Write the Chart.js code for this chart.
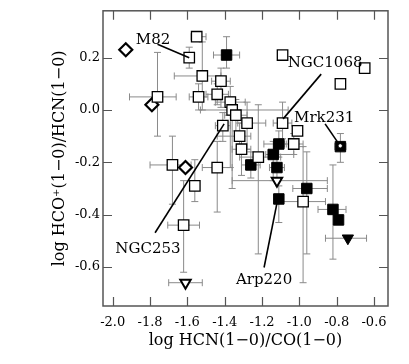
<!DOCTYPE html>
<html lang="en">
<head>
<meta charset="UTF-8">
<title>HCO+/HCN vs HCN/CO</title>
<script src="https://cdn.jsdelivr.net/npm/chart.js"></script>
<style>
    body { margin: 0; background: #fff; }
    #chart { display: block; }
</style>
</head>
<body>
<canvas id="chart" width="409" height="364"></canvas>
<script>
// axis ticks
const xTicks = [-2.0, -1.8, -1.6, -1.4, -1.2, -1.0, -0.8, -0.6];
const yTicks = [-0.6, -0.4, -0.2, 0.0, 0.2];

// open squares: x, y and error extents (minus / plus)
const openX  = [-1.55, -1.59, -1.52, -1.42, -1.54, -1.44, -1.76, -1.37, -1.36, -1.34, -1.28, -1.41, -1.32, -1.31, -1.22, -1.44, -1.68, -1.56, -1.62, -1.09, -0.65, -0.78, -1.09, -1.01, -1.03, -0.98];
const openY  = [0.28, 0.20, 0.13, 0.11, 0.05, 0.06, 0.05, 0.03, 0.00, -0.02, -0.05, -0.06, -0.10, -0.15, -0.18, -0.22, -0.21, -0.29, -0.44, 0.21, 0.16, 0.10, -0.05, -0.08, -0.13, -0.35];
const openXm = [0.03, 0, 0.15, 0.05, 0.05, 0.06, 0.15, 0.08, 0.17, 0.06, 0.05, 0.04, 0.12, 0.05, 0.10, 0.08, 0.12, 0, 0.085, 0, 0, 0, 0.05, 0, 0.05, 0.13];
const openXp = [0.05, 0, 0.10, 0.05, 0.05, 0.06, 0.10, 0.08, 0.30, 0.06, 0.10, 0.04, 0.06, 0.05, 0.12, 0.08, 0.10, 0, 0.085, 0, 0, 0, 0.05, 0, 0.05, 0.12];
const openYm = [0, 0.04, 0.13, 0.10, 0.05, 0.04, 0.15, 0.25, 0.30, 0.06, 0.10, 0.06, 0.05, 0.10, 0.37, 0.17, 0.15, 0.06, 0.18, 0, 0, 0, 0.06, 0, 0.04, 0.31];
const openYp = [0, 0.04, 0.13, 0.05, 0.05, 0.04, 0.17, 0.06, 0.05, 0.06, 0.08, 0.05, 0.05, 0.06, 0.20, 0.10, 0.11, 0.10, 0.17, 0, 0, 0, 0.08, 0, 0.04, 0.21];

// filled squares
const fillX  = [-1.39, -1.11, -1.14, -1.26, -1.12, -1.11, -0.96, -0.78, -0.82, -0.79];
const fillY  = [0.21, -0.13, -0.17, -0.21, -0.22, -0.34, -0.30, -0.14, -0.38, -0.42];
const fillXm = [0.07, 0.08, 0.04, 0.05, 0.04, 0, 0.075, 0.03, 0.08, 0];
const fillXp = [0.07, 0.04, 0.11, 0.05, 0.04, 0, 0.11, 0.03, 0.07, 0];
const fillYm = [0.05, 0.05, 0.10, 0.05, 0.05, 0.09, 0.25, 0.06, 0.19, 0];
const fillYp = [0.07, 0.05, 0.05, 0.05, 0.05, 0.05, 0.14, 0.05, 0.17, 0];

// open diamonds
const diamX = [-1.93, -1.79, -1.61];
const diamY = [0.23, 0.02, -0.22];

// open down-triangles (limits)
const triX  = [-1.61, -1.12];
const triY  = [-0.66, -0.27];
const triXm = [0.09, 0.24];
const triXp = [0.09, 0.27];

// filled down-triangle
const ftriX = [-0.74];
const ftriY = [-0.49];
const ftriXm = [0.12];
const ftriXp = [0.10];

// labelled galaxies
const labelNames = ['M82', 'NGC1068', 'Mrk231', 'NGC253', 'Arp220'];
const labelX = [-1.784, -0.862, -0.867, -1.811, -1.189];
const labelY = [0.267, 0.179, -0.030, -0.530, -0.651];
const leadX0 = [-1.76, -0.883, -0.862, -1.773, -1.189];
const leadY0 = [0.251, 0.137, -0.053, -0.469, -0.602];
const leadX1 = [-1.59, -1.087, -0.781, -1.403, -1.114];
const leadY1 = [0.20, -0.034, -0.137, -0.053, -0.335];
const leadDot = [0, 0, 1, 0, 0];

const SERIF = "'DejaVu Serif', serif";

function pts(xs, ys) {
    return xs.map((v, i) => ({ x: v, y: ys[i] }));
}
function errs(xm, xp, ym, yp) {
    return xm.map((v, i) => [v, xp[i], ym ? ym[i] : 0, yp ? yp[i] : 0]);
}

// gray error bars, drawn under the markers
const errorBars = {
    id: 'errorBars',
    beforeDatasetsDraw(chart) {
        const { ctx, scales: { x, y } } = chart;
        const cap = 3.5;
        ctx.save();
        ctx.strokeStyle = '#8a8a8a';
        ctx.lineWidth = 1;
        chart.data.datasets.forEach(ds => {
            if (!ds.err) return;
            ds.data.forEach((p, i) => {
                const [xm, xp, ym, yp] = ds.err[i];
                const px = x.getPixelForValue(p.x);
                const py = y.getPixelForValue(p.y);
                ctx.beginPath();
                if (xm || xp) {
                    const a = x.getPixelForValue(p.x - xm);
                    const b = x.getPixelForValue(p.x + xp);
                    ctx.moveTo(a, py); ctx.lineTo(b, py);
                    ctx.moveTo(a, py - cap); ctx.lineTo(a, py + cap);
                    ctx.moveTo(b, py - cap); ctx.lineTo(b, py + cap);
                }
                if (ym || yp) {
                    const a = y.getPixelForValue(p.y - ym);
                    const b = y.getPixelForValue(p.y + yp);
                    ctx.moveTo(px, a); ctx.lineTo(px, b);
                    ctx.moveTo(px - cap, a); ctx.lineTo(px + cap, a);
                    ctx.moveTo(px - cap, b); ctx.lineTo(px + cap, b);
                }
                ctx.stroke();
            });
        });
        ctx.restore();
    }
};

// frame with inward ticks on all four sides
const frame = {
    id: 'frame',
    afterDatasetsDraw(chart) {
        const { ctx, chartArea: a, scales: { x, y } } = chart;
        const len = 9;
        ctx.save();
        ctx.strokeStyle = '#555';
        ctx.lineWidth = 1.5;
        ctx.strokeRect(a.left, a.top, a.right - a.left, a.bottom - a.top);
        ctx.lineWidth = 1.2;
        ctx.beginPath();
        xTicks.forEach(v => {
            const px = Math.round(x.getPixelForValue(v)) + 0.5;
            ctx.moveTo(px, a.bottom); ctx.lineTo(px, a.bottom - len);
            ctx.moveTo(px, a.top); ctx.lineTo(px, a.top + len);
        });
        yTicks.forEach(v => {
            const py = Math.round(y.getPixelForValue(v)) + 0.5;
            ctx.moveTo(a.left, py); ctx.lineTo(a.left + len, py);
            ctx.moveTo(a.right, py); ctx.lineTo(a.right - len, py);
        });
        ctx.stroke();
        ctx.restore();
    }
};

// galaxy names with leader lines
const labels = {
    id: 'labels',
    afterDatasetsDraw(chart) {
        const { ctx, scales: { x, y } } = chart;
        ctx.save();
        ctx.strokeStyle = '#000';
        ctx.lineWidth = 1.6;
        labelNames.forEach((name, i) => {
            ctx.beginPath();
            ctx.moveTo(x.getPixelForValue(leadX0[i]), y.getPixelForValue(leadY0[i]));
            ctx.lineTo(x.getPixelForValue(leadX1[i]), y.getPixelForValue(leadY1[i]));
            ctx.stroke();
            if (leadDot[i]) {
                ctx.beginPath();
                ctx.fillStyle = '#fff';
                ctx.lineWidth = 1;
                ctx.arc(x.getPixelForValue(leadX1[i]), y.getPixelForValue(leadY1[i]), 2.2, 0, Math.PI * 2);
                ctx.fill();
                ctx.stroke();
                ctx.lineWidth = 1.6;
            }
        });
        ctx.fillStyle = '#000';
        ctx.font = '15px ' + SERIF;
        ctx.textAlign = 'center';
        ctx.textBaseline = 'middle';
        labelNames.forEach((name, i) => {
            ctx.fillText(name, x.getPixelForValue(labelX[i]), y.getPixelForValue(labelY[i]));
        });
        ctx.restore();
    }
};

const ctx = document.getElementById('chart').getContext('2d');
new Chart(ctx, {
    type: 'scatter',
    data: {
        datasets: [
            {
                data: pts(openX, openY),
                err: errs(openXm, openXp, openYm, openYp),
                pointStyle: 'rect', pointRadius: 7.4,
                backgroundColor: '#fff', borderColor: '#000', borderWidth: 1.3
            },
            {
                data: pts(fillX, fillY),
                err: errs(fillXm, fillXp, fillYm, fillYp),
                pointStyle: 'rect', pointRadius: 7.4,
                backgroundColor: '#000', borderColor: '#000', borderWidth: 1
            },
            {
                data: pts(diamX, diamY),
                pointStyle: 'rectRot', pointRadius: 6.5,
                backgroundColor: '#fff', borderColor: '#000', borderWidth: 2.2
            },
            {
                data: pts(triX, triY),
                err: errs(triXm, triXp),
                pointStyle: 'triangle', rotation: 180, pointRadius: 6,
                backgroundColor: '#fff', borderColor: '#000', borderWidth: 2
            },
            {
                data: pts(ftriX, ftriY),
                err: errs(ftriXm, ftriXp),
                pointStyle: 'triangle', rotation: 180, pointRadius: 6.5,
                backgroundColor: '#000', borderColor: '#000', borderWidth: 1
            }
        ]
    },
    options: {
        responsive: false,
        animation: false,
        events: [],
        layout: { padding: { left: 0, top: 10, right: 21, bottom: 0 } },
        plugins: { legend: { display: false }, tooltip: { enabled: false } },
        scales: {
            x: {
                type: 'linear',
                min: -2.052, max: -0.525,
                afterBuildTicks: s => { s.ticks = xTicks.map(v => ({ value: v })); },
                afterFit: s => { s.height = 58; },
                grid: { display: false, drawTicks: false },
                border: { display: false },
                ticks: {
                    padding: 9,
                    color: '#000',
                    font: { family: SERIF, size: 13 },
                    callback: v => v.toFixed(1)
                },
                title: {
                    display: true,
                    text: 'log HCN(1\u22120)/CO(1\u22120)',
                    color: '#000',
                    font: { family: SERIF, size: 16 },
                    padding: { top: 0, bottom: 14 }
                }
            },
            y: {
                type: 'linear',
                min: -0.749, max: 0.379,
                afterBuildTicks: s => { s.ticks = yTicks.map(v => ({ value: v })); },
                afterFit: s => { s.width = 103; },
                grid: { display: false, drawTicks: false },
                border: { display: false },
                ticks: {
                    padding: 3,
                    color: '#000',
                    font: { family: SERIF, size: 13 },
                    callback: v => v.toFixed(1)
                },
                title: {
                    display: true,
                    text: 'log HCO\u207A(1\u22120)/HCN(1\u22120)',
                    color: '#000',
                    font: { family: SERIF, size: 16 },
                    padding: { top: 50, bottom: 0 }
                }
            }
        }
    },
    plugins: [errorBars, frame, labels]
});
</script>
</body>
</html>
